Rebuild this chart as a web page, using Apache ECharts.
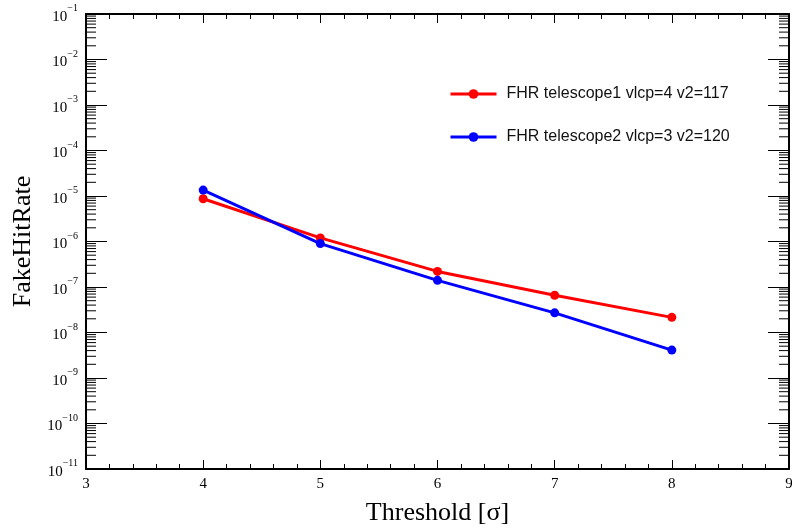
<!DOCTYPE html>
<html>
<head>
<meta charset="utf-8">
<script src="https://cdn.jsdelivr.net/npm/echarts@6/dist/echarts.min.js"></script>
<style>
  html, body { margin: 0; padding: 0; background: #fff; }
  #chart { width: 792px; height: 528px; }
</style>
</head>
<body>
<div id="chart"></div>
<script>
// threshold in units of sigma
var thresholds = [4, 5, 6, 7, 8];
// fake hit rate
var fhrTelescope1 = [8.7e-6, 1.2e-6, 2.2e-7, 6.6e-8, 2.15e-8];
var fhrTelescope2 = [1.35e-5, 9.0e-7, 1.4e-7, 2.7e-8, 4.1e-9];
var seriesNames = ['FHR telescope1 vlcp=4 v2=117', 'FHR telescope2 vlcp=3 v2=120'];
var xRange = [3, 9];
var yRange = [1e-11, 1e-1];
// log axis minor ticks sit at 2..9 x 10^k (ROOT style)
var minorMultipliers = [2, 3, 4, 5, 6, 7, 8, 9];
var decades = [-11, -10, -9, -8, -7, -6, -5, -4, -3, -2];

var serif = '"Liberation Serif", "DejaVu Serif", serif';
var sans = '"Liberation Sans", Arial, sans-serif';

function pairs(xs, ys) {
    return xs.map(function (x, i) { return [x, ys[i]]; });
}

var minorTicks = [];
decades.forEach(function (e) {
    minorMultipliers.forEach(function (m) {
        minorTicks.push([xRange[0], m * Math.pow(10, e)]);
    });
});

var chart = echarts.init(document.getElementById('chart'));

var option = {
    animation: false,
    backgroundColor: '#fff',
    grid: { left: 86, right: 3, top: 14, bottom: 59, outerBoundsMode: 'none' },
    legend: {
        orient: 'vertical',
        left: 444,
        top: 81,
        itemWidth: 46,
        itemHeight: 12,
        itemGap: 27,
        data: seriesNames,
        lineStyle: { width: 3 },
        textStyle: { fontFamily: sans, fontSize: 16, color: '#111', padding: [0, 0, 0, 5] }
    },
    xAxis: [{
        type: 'value',
        min: xRange[0],
        max: xRange[1],
        interval: 1,
        name: 'Threshold [σ]',
        nameLocation: 'middle',
        nameGap: 31,
        nameTextStyle: { fontFamily: serif, fontSize: 26, color: '#000' },
        axisLine: { lineStyle: { color: '#000', width: 2 } },
        axisTick: { inside: true, length: 9, lineStyle: { color: '#000', width: 1 } },
        minorTick: { show: true, splitNumber: 5, length: 5, lineStyle: { color: '#000', width: 1 } },
        axisLabel: { fontFamily: serif, fontSize: 15, color: '#000', margin: 8 },
        splitLine: { show: false }
    }, {
        type: 'value',
        position: 'top',
        min: xRange[0],
        max: xRange[1],
        interval: 1,
        axisLine: { lineStyle: { color: '#000', width: 2 } },
        axisTick: { inside: true, length: 9, lineStyle: { color: '#000', width: 1 } },
        minorTick: { show: true, splitNumber: 5, length: 5, lineStyle: { color: '#000', width: 1 } },
        axisLabel: { show: false },
        splitLine: { show: false }
    }],
    yAxis: [{
        type: 'log',
        logBase: 10,
        min: yRange[0],
        max: yRange[1],
        interval: 1,
        name: 'FakeHitRate',
        nameLocation: 'middle',
        nameGap: 50,
        nameTextStyle: { fontFamily: serif, fontSize: 26, color: '#000' },
        axisLine: { show: true, lineStyle: { color: '#000', width: 2 } },
        axisTick: { inside: true, length: 21, interval: 0, lineStyle: { color: '#000', width: 1 } },
        axisLabel: {
            margin: 8,
            interval: 0,
            formatter: function (v) {
                var e = Math.round(Math.log10(v));
                return '{b|10}{s|' + (e < 0 ? '\u2212' : '') + Math.abs(e) + '}';
            },
            rich: {
                b: { fontFamily: serif, fontSize: 15, color: '#000', verticalAlign: 'bottom', padding: [6, 0, 0, 0] },
                s: { fontFamily: serif, fontSize: 10, color: '#000', verticalAlign: 'top' }
            }
        },
        splitLine: { show: false }
    }, {
        type: 'log',
        logBase: 10,
        position: 'right',
        min: yRange[0],
        max: yRange[1],
        interval: 1,
        axisLine: { show: true, lineStyle: { color: '#000', width: 2 } },
        axisTick: { inside: true, length: 21, interval: 0, lineStyle: { color: '#000', width: 1 } },
        axisLabel: { show: false, interval: 0 },
        splitLine: { show: false }
    }],
    series: [{
        name: 'minor ticks',
        type: 'custom',
        silent: true,
        data: minorTicks,
        encode: { x: 0, y: 1 },
        renderItem: function (params, api) {
            var v = api.value(1);
            var l = api.coord([xRange[0], v]);
            var r = api.coord([xRange[1], v]);
            return {
                type: 'group',
                children: [
                    { type: 'line', shape: { x1: l[0], y1: l[1], x2: l[0] + 10, y2: l[1] }, style: { stroke: '#000', lineWidth: 1 } },
                    { type: 'line', shape: { x1: r[0], y1: r[1], x2: r[0] - 10, y2: r[1] }, style: { stroke: '#000', lineWidth: 1 } }
                ]
            };
        }
    }, {
        name: seriesNames[0],
        type: 'line',
        data: pairs(thresholds, fhrTelescope1),
        color: '#ff0000',
        symbol: 'circle',
        symbolSize: 9,
        lineStyle: { width: 3 }
    }, {
        name: seriesNames[1],
        type: 'line',
        data: pairs(thresholds, fhrTelescope2),
        color: '#0000ff',
        symbol: 'circle',
        symbolSize: 9,
        lineStyle: { width: 3 }
    }]
};

chart.setOption(option);
</script>
</body>
</html>
